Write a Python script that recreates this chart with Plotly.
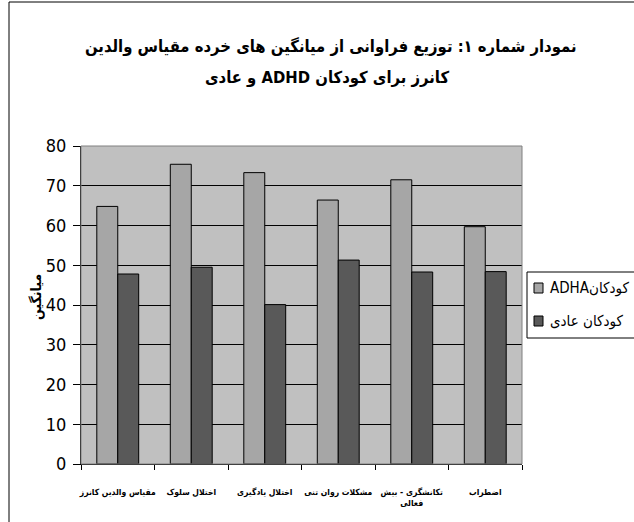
import plotly.graph_objects as go

categories = [
    "مقیاس والدین کانرز",
    "اختلال سلوک",
    "اختلال یادگیری",
    "مشکلات روان تنی",
    "تکانشگری - بیش<br>فعالی",
    "اضطراب",
]
adhd_values = [64.8, 75.4, 73.3, 66.4, 71.5, 59.7]
normal_values = [47.8, 49.5, 40.1, 51.3, 48.3, 48.4]
series_names = ["ADHAکودکان", "کودکان عادی"]
series_colors = ["#A6A6A6", "#595959"]
title_line1 = "نمودار شماره ۱: توزیع فراوانی از میانگین های خرده مقیاس والدین"
# segments ordered so that the rendered line reads like the reference
title_line2 = "و عادی ADHD کانرز برای کودکان"
y_title = "میانگین"
y_ticks = [0, 10, 20, 30, 40, 50, 60, 70, 80]

narrow = "Liberation Sans Narrow, Arial Narrow, DejaVu Sans Condensed, Liberation Sans"
arab = "DejaVu Sans Condensed, DejaVu Sans"

W, H = 634, 522
ML, MR, MT, MB = 81, 112, 146, 58
PW, PH = W - ML - MR, H - MT - MB


def px(x):
    return (x - ML) / PW


def py(y):
    return (H - MB - y) / PH


fig = go.Figure()
for name, vals, col in zip(series_names, [adhd_values, normal_values], series_colors):
    fig.add_trace(go.Bar(
        x=categories, y=vals, name=name, showlegend=False,
        marker=dict(color=col, line=dict(color="#000000", width=1)),
    ))

shapes = [
    dict(type="rect", xref="paper", yref="paper", x0=0, x1=1, y0=0, y1=1,
         line=dict(color="#808080", width=1), fillcolor="rgba(0,0,0,0)", layer="above"),
    dict(type="rect", xref="paper", yref="paper", x0=px(9), x1=px(700), y0=py(700), y1=py(2),
         line=dict(color="black", width=1), fillcolor="rgba(0,0,0,0)"),
    dict(type="rect", xref="paper", yref="paper", x0=px(527), x1=px(700), y0=py(338), y1=py(272),
         line=dict(color="black", width=1), fillcolor="white"),
]
annotations = [
    dict(text=y_title, textangle=-90,
         x=px(36), y=py(297), xref="paper", yref="paper",
         xanchor="center", yanchor="middle", showarrow=False,
         font=dict(family=arab, size=14, color="black", weight="bold")),
    dict(text=title_line1, x=px(331), y=py(46), xref="paper", yref="paper",
         xanchor="center", yanchor="middle", showarrow=False,
         font=dict(family=arab, size=16.5, color="black", weight="bold")),
    dict(text=title_line2, x=px(327), y=py(78), xref="paper", yref="paper",
         xanchor="center", yanchor="middle", showarrow=False,
         font=dict(family=arab, size=16.5, color="black", weight="bold")),
]
legend_rows = [288, 321]
for name, col, yc in zip(series_names, series_colors, legend_rows):
    shapes.append(dict(type="rect", xref="paper", yref="paper",
                       x0=px(534), x1=px(543), y0=py(yc + 5), y1=py(yc - 5),
                       line=dict(color="black", width=1), fillcolor=col))
    annotations.append(dict(
        text=name, x=px(548), y=py(yc), xref="paper", yref="paper",
        xanchor="left", yanchor="middle", showarrow=False,
        font=dict(family=narrow, size=15, color="black"),
    ))

fig.update_layout(
    width=W, height=H,
    margin=dict(l=ML, r=MR, t=MT, b=MB, autoexpand=False),
    paper_bgcolor="white",
    plot_bgcolor="#C0C0C0",
    barmode="group",
    bargap=0.43,
    bargroupgap=0,
    showlegend=False,
    xaxis=dict(
        type="category",
        showline=True, linecolor="black", linewidth=1,
        ticks="outside", tickson="boundaries", ticklen=5, tickcolor="black",
        tickangle=0,
        ticklabelstandoff=20,
        tickfont=dict(family=arab, size=8.5, color="black", weight="bold"),
        showgrid=False,
    ),
    yaxis=dict(
        range=[0, 80],
        tickvals=y_ticks,
        showline=True, linecolor="black", linewidth=1,
        ticks="outside", ticklen=7, tickcolor="black",
        ticklabelstandoff=3,
        tickfont=dict(family=narrow, size=18, color="black"),
        showgrid=True, gridcolor="black", gridwidth=1,
        zeroline=False,
    ),
    annotations=annotations,
    shapes=shapes,
)

fig.write_html(
    "out.html",
    config={"displayModeBar": False},
    post_script="document.body.style.margin='0';document.body.style.overflow='hidden';",
)
